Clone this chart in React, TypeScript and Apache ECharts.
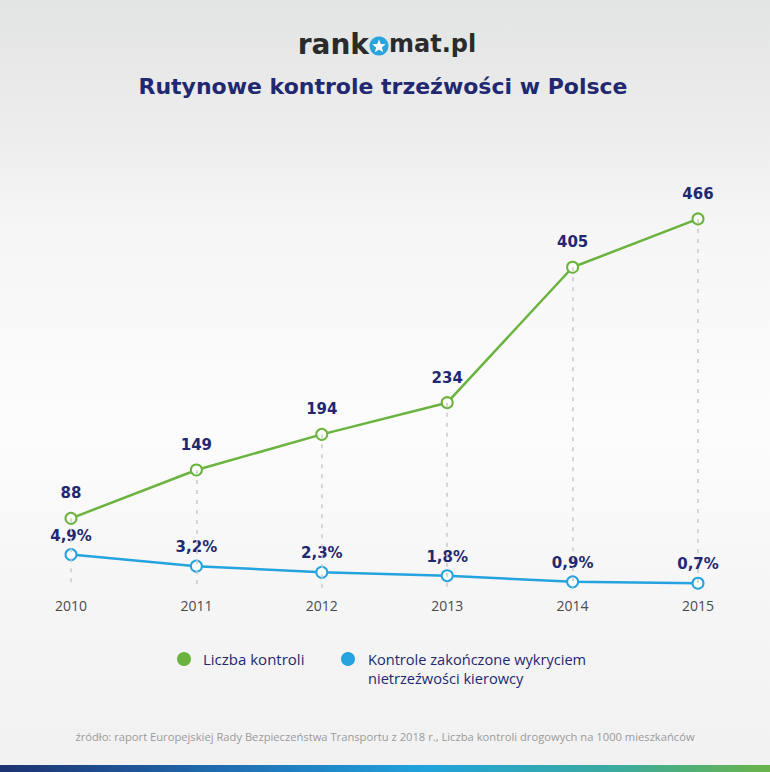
import React, { useEffect, useRef } from "react";
import * as echarts from "echarts";

const years = ["2010", "2011", "2012", "2013", "2014", "2015"];
const controls = [88, 149, 194, 234, 405, 466];
const detectedPct = [4.9, 3.2, 2.3, 1.8, 0.9, 0.7];
const seriesNames = ["Liczba kontroli", "Kontrole zakończone wykryciem", "nietrzeźwości kierowcy"];
const titleText = "Rutynowe kontrole trzeźwości w Polsce";
const sourceText =
  "źródło: raport Europejskiej Rady Bezpieczeństwa Transportu z 2018 r., Liczba kontroli drogowych na 1000 mieszkańców";

const GREEN = "#6ab33e";
const BLUE = "#25a3de";
const NAVY = "#1f2870";
const FONT = "'Open Sans', 'DejaVu Sans', sans-serif";
const BOLDFONT = "'DejaVu Sans', 'Open Sans', sans-serif";

function starPoints(cx: number, cy: number, R: number, r: number) {
  const pts: number[][] = [];
  for (let i = 0; i < 10; i++) {
    const ang = -Math.PI / 2 + (i * Math.PI) / 5;
    const rad = i % 2 === 0 ? R : r;
    pts.push([cx + rad * Math.cos(ang), cy + rad * Math.sin(ang)]);
  }
  return pts;
}

export default function App() {
  const ref = useRef<HTMLDivElement>(null);
  useEffect(() => {
    if (!ref.current) return;
    const chart = echarts.init(ref.current, null, { renderer: "svg" });
    const option: any = {
      animation: false,
      backgroundColor: {
        type: "linear",
        x: 0,
        y: 0,
        x2: 0,
        y2: 1,
        colorStops: [
          { offset: 0, color: "#e3e4e4" },
          { offset: 0.16, color: "#ececec" },
          { offset: 0.3, color: "#f6f6f6" },
          { offset: 0.55, color: "#fcfcfc" },
          { offset: 0.8, color: "#f5f5f5" },
          { offset: 1, color: "#f1f1f1" },
        ],
      },
      grid: { left: 71, right: 72, top: 192, bottom: 184 },
      xAxis: {
        type: "category",
        data: years,
        boundaryGap: false,
        axisLine: { show: false },
        axisTick: { show: false },
        splitLine: { show: false },
        axisLabel: { color: "#4a4a4a", fontSize: 14, fontFamily: FONT, margin: 10 },
      },
      yAxis: [
        { type: "value", min: 0, max: 500, show: false, splitLine: { show: false } },
        { type: "value", min: 0, max: 58, show: false, splitLine: { show: false } },
      ],
      series: [
        {
          name: "guides",
          type: "line",
          data: controls,
          yAxisIndex: 0,
          z: 1,
          showSymbol: false,
          silent: true,
          lineStyle: { opacity: 0 },
          markLine: {
            silent: true,
            symbol: ["none", "none"],
            label: { show: false },
            lineStyle: { type: [4, 6], color: "#c9c9c9", width: 1.5 },
            data: controls.map((v, i) => [{ coord: [i, v] }, { coord: [i, 0] }]),
          },
        },
        {
          name: seriesNames[0],
          type: "line",
          data: controls,
          yAxisIndex: 0,
          z: 3,
          symbol: "circle",
          symbolSize: 11,
          lineStyle: { color: GREEN, width: 2.5 },
          itemStyle: { color: "#ffffff", borderColor: GREEN, borderWidth: 2 },
          label: {
            show: true,
            position: "top",
            distance: 11,
            color: NAVY,
            fontSize: 15,
            fontWeight: "bold",
            fontFamily: BOLDFONT,
          },
        },
        {
          name: seriesNames[1] + " " + seriesNames[2],
          type: "line",
          data: detectedPct,
          yAxisIndex: 1,
          z: 3,
          symbol: "circle",
          symbolSize: 11,
          lineStyle: { color: BLUE, width: 2.5 },
          itemStyle: { color: "#ffffff", borderColor: BLUE, borderWidth: 2 },
          label: {
            show: true,
            position: "top",
            distance: 5,
            color: NAVY,
            fontSize: 15,
            fontWeight: "bold",
            fontFamily: BOLDFONT,
            formatter: (p: any) => String(p.value).replace(".", ",") + "%",
          },
        },
      ],
      graphic: [
        // logo
        {
          type: "text",
          x: 369,
          y: 44,
          style: {
            text: "rank",
            align: "right",
            verticalAlign: "middle",
            fill: "#2b2b2b",
            font: "bold 28px 'DejaVu Sans', sans-serif",
          },
        },
        {
          type: "circle",
          shape: { cx: 379, cy: 46, r: 9.5 },
          style: { fill: "#2aa4dc" },
        },
        {
          type: "polygon",
          shape: { points: starPoints(379, 46.5, 7, 3) },
          style: { fill: "#ffffff" },
        },
        {
          type: "text",
          x: 389,
          y: 44,
          style: {
            text: "mat.pl",
            align: "left",
            verticalAlign: "middle",
            fill: "#2b2b2b",
            font: "bold 24px 'DejaVu Sans', sans-serif",
          },
        },
        // title
        {
          type: "text",
          x: 383,
          y: 86,
          style: {
            text: titleText,
            align: "center",
            verticalAlign: "middle",
            fill: NAVY,
            font: `bold 22px ${BOLDFONT}`,
          },
        },
        // legend
        { type: "circle", shape: { cx: 184, cy: 659, r: 7 }, style: { fill: GREEN } },
        {
          type: "text",
          x: 203,
          y: 659,
          style: {
            text: seriesNames[0],
            align: "left",
            verticalAlign: "middle",
            fill: NAVY,
            font: `15px ${FONT}`,
          },
        },
        { type: "circle", shape: { cx: 348, cy: 659, r: 7 }, style: { fill: BLUE } },
        {
          type: "text",
          x: 368,
          y: 658.5,
          style: {
            text: seriesNames[1],
            align: "left",
            verticalAlign: "middle",
            fill: NAVY,
            font: `14.6px ${FONT}`,
          },
        },
        {
          type: "text",
          x: 368,
          y: 677.5,
          style: {
            text: seriesNames[2],
            align: "left",
            verticalAlign: "middle",
            fill: NAVY,
            font: `14.6px ${FONT}`,
          },
        },
        // source
        {
          type: "text",
          x: 385,
          y: 736,
          style: {
            text: sourceText,
            align: "center",
            verticalAlign: "middle",
            fill: "#9a9a9a",
            font: `11.2px ${FONT}`,
          },
        },
        // bottom bar
        {
          type: "rect",
          shape: { x: 0, y: 765, width: 770, height: 7 },
          style: {
            fill: {
              type: "linear",
              x: 0,
              y: 0,
              x2: 1,
              y2: 0,
              colorStops: [
                { offset: 0, color: "#1d3272" },
                { offset: 0.3, color: "#1f6fb3" },
                { offset: 0.55, color: "#20a2dc" },
                { offset: 0.8, color: "#3aab9e" },
                { offset: 1, color: "#6ab44a" },
              ],
            },
          },
        },
      ],
    };
    chart.setOption(option);
    return () => chart.dispose();
  }, []);
  return (
    <div
      ref={ref}
      style={{ position: "fixed", left: 0, top: 0, width: 770, height: 772 }}
    />
  );
}
